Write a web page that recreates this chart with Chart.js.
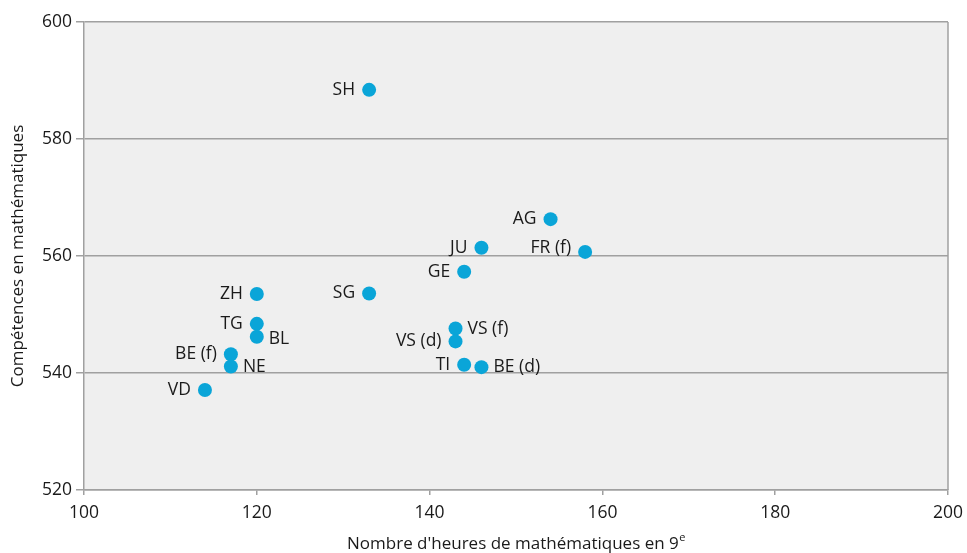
<!DOCTYPE html>
<html>
<head>
<meta charset="utf-8">
<script src="https://cdn.jsdelivr.net/npm/chart.js@4.4.0/dist/chart.umd.min.js"></script>
<style>
  html, body { margin: 0; padding: 0; background: #fff; }
  #wrap { width: 967px; height: 553px; }
</style>
</head>
<body>
<div id="wrap"><canvas id="graphique"></canvas></div>
<script>
// Cantons et valeurs
const cantons = ['SH', 'AG', 'JU', 'FR (f)', 'GE', 'ZH', 'SG', 'TG', 'BL', 'VS (f)', 'VS (d)', 'BE (f)', 'NE', 'TI', 'BE (d)', 'VD'];
const heures = [133, 154, 146, 158, 144, 120, 133, 120, 120, 143, 143, 117, 117, 144, 146, 114];
const competences = [588.4, 566.3, 561.4, 560.7, 557.3, 553.5, 553.6, 548.4, 546.2, 547.6, 545.4, 543.2, 541.1, 541.4, 541.0, 537.1];
const ticksX = [100, 120, 140, 160, 180, 200];
const ticksY = [520, 540, 560, 580, 600];

// etiquettes placées à droite du point
const aDroite = ['BL', 'NE', 'VS (f)', 'BE (d)'];
const decalageY = { 'FR (f)': -4, 'BL': 2 };

const fond = {
    id: 'fond',
    beforeDraw(chart) {
        const a = chart.chartArea, ctx = chart.ctx;
        ctx.save();
        ctx.fillStyle = '#efefef';
        ctx.fillRect(a.left, a.top, a.right - a.left, a.bottom - a.top);
        ctx.restore();
    },
    afterDatasetsDraw(chart) {
        const a = chart.chartArea, ctx = chart.ctx;
        ctx.save();
        ctx.strokeStyle = '#a0a0a0';
        ctx.lineWidth = 1.5;
        ctx.beginPath();
        ctx.moveTo(a.right, a.top);
        ctx.lineTo(a.right, a.bottom);
        ctx.stroke();

        // étiquettes des cantons
        const meta = chart.getDatasetMeta(0);
        ctx.font = '17.5px "Open Sans"';
        ctx.fillStyle = '#1a1a1a';
        ctx.textBaseline = 'middle';
        meta.data.forEach((pt, i) => {
            const nom = cantons[i];
            const dy = decalageY[nom] || 0;
            if (aDroite.includes(nom)) {
                ctx.textAlign = 'left';
                ctx.fillText(nom, pt.x + 12, pt.y + dy);
            } else {
                ctx.textAlign = 'right';
                ctx.fillText(nom, pt.x - 14, pt.y + dy);
            }
        });

        // titre de l'axe x avec exposant
        const t1 = "Nombre d'heures de mathématiques en 9";
        ctx.font = '17px "Open Sans"';
        const w1 = ctx.measureText(t1).width;
        ctx.font = '11px "Open Sans"';
        const w2 = ctx.measureText('e').width;
        const x0 = (a.left + a.right) / 2 - (w1 + w2) / 2;
        ctx.textAlign = 'left';
        ctx.textBaseline = 'alphabetic';
        ctx.font = '17px "Open Sans"';
        ctx.fillText(t1, x0, 549);
        ctx.font = '11px "Open Sans"';
        ctx.fillText('e', x0 + w1 + 0.5, 541);
        ctx.restore();
    }
};

const config = {
    type: 'scatter',
    data: {
        datasets: [{
            data: heures.map((h, i) => ({ x: h, y: competences[i] })),
            backgroundColor: '#0aa5d8',
            borderWidth: 0,
            pointRadius: 7,
            pointHoverRadius: 7
        }]
    },
    options: {
        responsive: true,
        maintainAspectRatio: false,
        animation: false,
        layout: { padding: { top: 22, right: 19, left: 0, bottom: 0 } },
        plugins: { legend: { display: false }, tooltip: { enabled: false } },
        scales: {
            x: {
                type: 'linear',
                min: 100, max: 200,
                afterBuildTicks(scale) { scale.ticks = ticksX.map(v => ({ value: v })); },
                afterFit(scale) {
                    scale.height = 63;
                    scale.paddingLeft = 0;
                    scale.paddingRight = 0;
                },
                grid: { drawOnChartArea: false, color: '#a0a0a0', tickLength: 5, lineWidth: 1.5 },
                border: { color: '#a0a0a0', width: 1.5 },
                ticks: { color: '#1a1a1a', font: { family: 'Open Sans', size: 17.5 }, padding: 8 }
            },
            y: {
                min: 520, max: 600,
                afterBuildTicks(scale) { scale.ticks = ticksY.map(v => ({ value: v })); },
                afterFit(scale) {
                    scale.width = 84;
                    scale.paddingTop = 0;
                    scale.paddingBottom = 0;
                },
                grid: { color: '#a0a0a0', tickLength: 8, lineWidth: 1.5 },
                border: { color: '#a0a0a0', width: 1.5 },
                ticks: { color: '#1a1a1a', font: { family: 'Open Sans', size: 17.5 }, padding: 4 },
                title: {
                    display: true,
                    text: 'Compétences en mathématiques',
                    color: '#1a1a1a',
                    font: { family: 'Open Sans', size: 17 },
                    padding: { top: 8, bottom: 0 }
                }
            }
        }
    },
    plugins: [fond]
};

window.onload = function() {
    const ctx = document.getElementById('graphique').getContext('2d');
    new Chart(ctx, config);
};
</script>
</body>
</html>
